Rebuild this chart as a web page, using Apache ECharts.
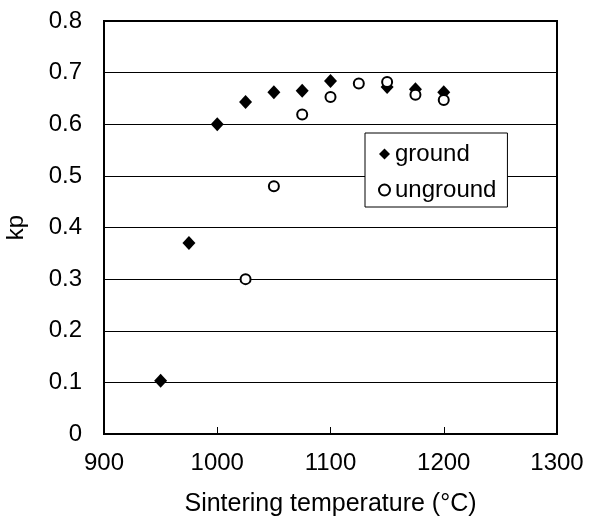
<!DOCTYPE html>
<html><head><meta charset="utf-8">
<script src="https://cdn.jsdelivr.net/npm/echarts@6/dist/echarts.min.js"></script>
<style>html,body{margin:0;padding:0;background:#fff}#c{width:589px;height:518px}</style>
</head><body><div id="c"></div>
<script>
var groundX = [950, 975, 1000, 1025, 1050, 1075, 1100, 1150, 1175, 1200];
var groundY = [0.103, 0.370, 0.600, 0.643, 0.662, 0.665, 0.684, 0.672, 0.668, 0.662];
var ungroundX = [1025, 1050, 1075, 1100, 1125, 1150, 1175, 1200];
var ungroundY = [0.300, 0.480, 0.619, 0.653, 0.679, 0.682, 0.657, 0.647];
var xTicks = [900, 1000, 1100, 1200, 1300];
var yTicks = [0, 0.1, 0.2, 0.3, 0.4, 0.5, 0.6, 0.7, 0.8];

function pairs(xs, ys){ return xs.map(function(x,i){ return [x, ys[i]]; }); }
var font = 'Liberation Sans, Arial, sans-serif';
var chart = echarts.init(document.getElementById('c'), null, {renderer:'canvas'});
chart.setOption({
  animation:false,
  grid:{left:104, right:32, top:21, bottom:84, show:true, borderColor:'#000', borderWidth:2,
        backgroundColor:'transparent', outerBoundsMode:'none', containLabel:false},
  legend:{
    left:365, top:133, orient:'vertical',
    backgroundColor:'#fff', borderColor:'#000', borderWidth:1,
    padding:[9,11,5,13], itemGap:12, itemWidth:11, itemHeight:11,
    textStyle:{fontFamily:font, fontSize:24, color:'#000'},
    data:['ground','unground']
  },
  xAxis:{
    type:'value', min:900, max:1300, interval:100,
    name:'Sintering temperature (°C)', nameLocation:'middle', nameGap:58,
    nameTextStyle:{fontFamily:font, fontSize:25, color:'#000'},
    axisLine:{show:true, lineStyle:{color:'#000', width:2}},
    axisTick:{show:true, inside:true, length:7, lineStyle:{color:'#000', width:1}},
    axisLabel:{fontFamily:font, fontSize:24, color:'#000', margin:17,
      formatter:function(v){ return xTicks.indexOf(v)>=0 ? String(v) : ''; }},
    splitLine:{show:false}
  },
  yAxis:{
    type:'value', min:0, max:0.8, interval:0.1,
    name:'kp', nameLocation:'middle', nameGap:76, nameRotate:90,
    nameTextStyle:{fontFamily:font, fontSize:24, color:'#000'},
    axisLine:{show:true, lineStyle:{color:'#000', width:2}},
    axisTick:{show:true, inside:true, length:7, lineStyle:{color:'#000', width:1}},
    axisLabel:{fontFamily:font, fontSize:24, color:'#000', margin:22,
      formatter:function(v){ var r=Math.round(v*10)/10; return r===0?'0':r.toFixed(1); }},
    splitLine:{show:true, lineStyle:{color:'#000', width:1}}
  },
  series:[
    {name:'ground', type:'scatter', symbol:'diamond', symbolSize:[13,14],
     itemStyle:{color:'#000', borderColor:'#000', borderWidth:0, opacity:1}, z:2,
     data:pairs(groundX, groundY)},
    {name:'unground', type:'scatter', symbol:'circle', symbolSize:10,
     itemStyle:{color:'#fff', borderColor:'#000', borderWidth:2, opacity:1}, z:3,
     data:pairs(ungroundX, ungroundY)}
  ]
});
</script></body></html>
